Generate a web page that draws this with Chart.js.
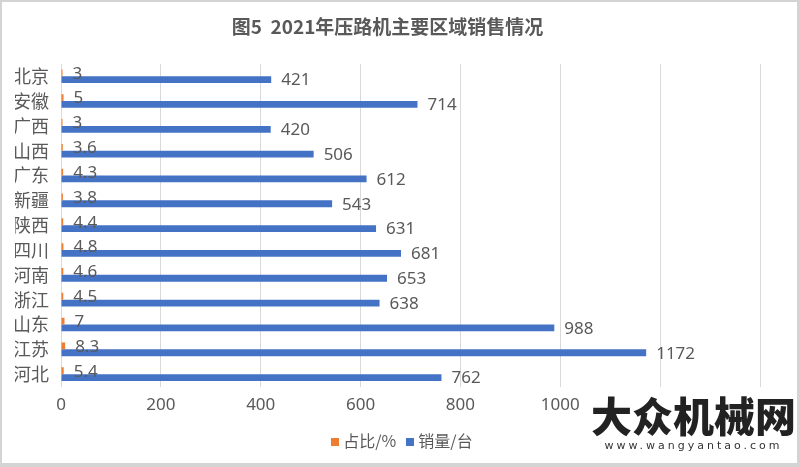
<!DOCTYPE html>
<html>
<head>
<meta charset="utf-8">
<script src="https://cdn.jsdelivr.net/npm/chart.js@4/dist/chart.umd.min.js"></script>
<style>
  html, body { margin: 0; padding: 0; }
  body { width: 800px; height: 467px; background: #d4d4d4; position: relative; overflow: hidden; }
  #panel { position: absolute; left: 2px; top: 2px; width: 795px; height: 461px; background: #fff; }
  #wrap { position: absolute; left: 0; top: 0; width: 795px; height: 461px; }
  #legend { position: absolute; left: 0; top: 427px; width: 800px; text-align: center; font-family: "Noto Sans CJK SC", sans-serif; font-size: 16px; color: #595959; line-height: 22px; }
  #legend span.box { display: inline-block; width: 8px; height: 8px; margin-right: 4px; vertical-align: 1px; }
  #legend span.item { margin: 0 5px; }
  #mark { position: absolute; left: 588px; top: 388px; width: 207px; height: 70px; background: #fff; text-align: center; }
  #mark .big { font-family: "Noto Sans CJK SC"; font-weight: 900; font-size: 41px; line-height: 48px; color: #222; }
  #mark .url { font-family: "DejaVu Sans"; font-size: 11px; color: #333; letter-spacing: 3px; line-height: 16px; }
</style>
</head>
<body>
<div id="panel">
  <div id="wrap"><canvas id="chart"></canvas></div>
  <div id="legend"></div>
  <div id="mark"><div class="big">大众机械网</div><div class="url">www.wangyantao.com</div></div>
</div>
<script>
// 各区域数据
var regions = ['北京', '安徽', '广西', '山西', '广东', '新疆', '陕西', '四川', '河南', '浙江', '山东', '江苏', '河北'];
var shareValues = [3, 5, 3, 3.6, 4.3, 3.8, 4.4, 4.8, 4.6, 4.5, 7, 8.3, 5.4];
var salesValues = [421, 714, 420, 506, 612, 543, 631, 681, 653, 638, 988, 1172, 762];
var xTicks = [0, 200, 400, 600, 800, 1000, 1200, 1400];

var labelFont = '17px "Noto Sans", "Noto Sans CJK SC", sans-serif';

// bar value labels (no datalabels plugin available)
var valueLabels = {
  id: 'valueLabels',
  afterDatasetsDraw: function (chart) {
    var c = chart.ctx;
    c.save();
    c.font = labelFont;
    c.fillStyle = '#595959';
    c.textBaseline = 'middle';
    c.textAlign = 'left';
    chart.data.datasets.forEach(function (ds, i) {
      chart.getDatasetMeta(i).data.forEach(function (el, j) {
        c.fillText(String(ds.data[j]), el.x + 10, el.y + 1);
      });
    });
    c.restore();
  }
};

var ctx = document.getElementById('chart');
var chart = new Chart(ctx, {
  type: 'bar',
  data: {
    labels: regions,
    datasets: [{
      label: '占比/%',
      data: shareValues,
      backgroundColor: '#ED7D31',
      categoryPercentage: 0.55,
      barPercentage: 1
    }, {
      label: '销量/台',
      data: salesValues,
      backgroundColor: '#4472C4',
      categoryPercentage: 0.55,
      barPercentage: 1
    }]
  },
  options: {
    indexAxis: 'y',
    responsive: true,
    maintainAspectRatio: false,
    animation: false,
    layout: {
      padding: { left: 13, right: 37, top: 0, bottom: 40 }
    },
    plugins: {
      title: {
        display: true,
        text: '图5  2021年压路机主要区域销售情况',
        color: '#595959',
        font: { family: '"Noto Sans CJK SC", sans-serif', size: 19, weight: 'bold' },
        padding: { top: 13, bottom: 26 }
      },
      legend: { display: false },
      tooltip: { enabled: false }
    },
    scales: {
      x: {
        min: 0,
        max: 1400,
        afterBuildTicks: function (axis) {
          axis.ticks = xTicks.map(function (v) { return { value: v }; });
        },
        grid: { color: '#d9d9d9', drawTicks: false },
        border: { display: false },
        ticks: {
          color: '#595959',
          padding: 8,
          font: { family: '"Noto Sans", sans-serif', size: 17 },
          callback: function (v) { return String(v); }
        }
      },
      y: {
        afterFit: function (s) { s.width = 46; },
        grid: { display: false, drawTicks: false },
        border: { display: false },
        ticks: {
          autoSkip: false,
          color: '#595959',
          padding: 12,
          font: { family: '"Noto Sans CJK SC", sans-serif', size: 18 }
        }
      }
    }
  },
  plugins: [valueLabels]
});

// legend as html text
var legendEl = document.getElementById('legend');
chart.data.datasets.forEach(function (ds) {
  var item = document.createElement('span');
  item.className = 'item';
  var box = document.createElement('span');
  box.className = 'box';
  box.style.background = ds.backgroundColor;
  item.appendChild(box);
  item.appendChild(document.createTextNode(ds.label));
  legendEl.appendChild(item);
});
</script>
</body>
</html>
